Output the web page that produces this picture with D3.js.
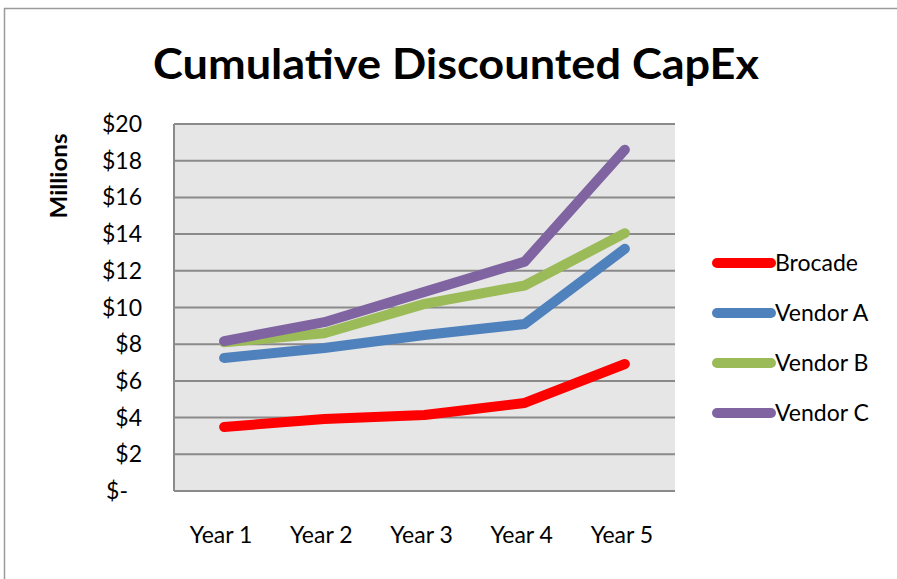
<!DOCTYPE html>
<html><head><meta charset="utf-8">
<script src="https://cdn.jsdelivr.net/npm/d3@7"></script>
<style>body{margin:0;background:#fff}svg{display:block}</style>
</head><body>
<svg id="c" width="897" height="579"></svg>
<script>
const categories = ["Year 1","Year 2","Year 3","Year 4","Year 5"];
const brocade = [3.49, 3.92, 4.14, 4.8, 6.92];
const vendorA = [7.25, 7.79, 8.5, 9.1, 13.2];
const vendorB = [8.1, 8.6, 10.2, 11.2, 14.05];
const vendorC = [8.17, 9.2, 10.85, 12.5, 18.6];
const seriesNames = ["Brocade","Vendor A","Vendor B","Vendor C"];
const seriesColors = ["#FF0000","#4F81BD","#9BBB59","#8064A2"];
const yTicks = [0,2,4,6,8,10,12,14,16,18,20];
const title = "Cumulative Discounted CapEx";
const yTitle = "Millions";

const series = [brocade, vendorA, vendorB, vendorC];
const svg = d3.select("#c");
const font = "Lato, 'Open Sans', sans-serif";

// outer border
svg.append("rect").attr("x",4.5).attr("y",8.5).attr("width",1000).attr("height",1000)
  .attr("fill","#fff").attr("stroke","#9a9a9a").attr("stroke-width",1.5);

const L=174, R=675, T=124, B=491;
const x = d3.scaleBand().domain(categories).range([L,R]);
const y = d3.scaleLinear().domain([0,20]).range([B,T]);

svg.append("rect").attr("x",L).attr("y",T).attr("width",R-L).attr("height",B-T).attr("fill","#E6E6E6");

// gridlines
svg.append("g").selectAll("line").data(yTicks).join("line")
  .attr("x1",L).attr("x2",R).attr("y1",d=>y(d)).attr("y2",d=>y(d))
  .attr("stroke","#8a8a8a").attr("stroke-width",2);
svg.append("line").attr("x1",L).attr("x2",L).attr("y1",T).attr("y2",B).attr("stroke","#8a8a8a").attr("stroke-width",2);

// y tick labels
svg.append("g").selectAll("text").data(yTicks).join("text")
  .attr("x",d=>d===0?128:142).attr("y",d=>y(d)).attr("dy","0.35em")
  .attr("text-anchor","end").attr("font-family",font).attr("font-size",23).attr("fill","#000")
  .text(d=>d===0?"$-":"$"+d);

// x labels
svg.append("g").selectAll("text").data(categories).join("text")
  .attr("x",d=>x(d)+x.bandwidth()/2-3).attr("y",543)
  .attr("text-anchor","middle").attr("font-family",font).attr("font-size",23).attr("fill","#000")
  .text(d=>d);

// y title
svg.append("text").attr("transform","translate(67,176) rotate(-90)")
  .attr("text-anchor","middle").attr("font-family",font).attr("font-weight","bold")
  .attr("font-size",22).attr("textLength",85).attr("lengthAdjust","spacingAndGlyphs").text(yTitle);

// title
svg.append("text").attr("x",456).attr("y",79).attr("text-anchor","middle")
  .attr("font-family",font).attr("font-weight","bold").attr("font-size",42)
  .attr("textLength",606).attr("lengthAdjust","spacingAndGlyphs").text(title);

// lines
const line = d3.line().x((d,i)=>x(categories[i])+x.bandwidth()/2).y(d=>y(d));
svg.append("g").selectAll("path").data(series).join("path")
  .attr("d",d=>line(d)).attr("fill","none")
  .attr("stroke",(d,i)=>seriesColors[i]).attr("stroke-width",10)
  .attr("stroke-linecap","round").attr("stroke-linejoin","round");

// legend
const lg = svg.append("g").selectAll("g").data(seriesNames).join("g")
  .attr("transform",(d,i)=>`translate(0,${263+i*50})`);
lg.append("line").attr("x1",717).attr("x2",771).attr("y1",0).attr("y2",0)
  .attr("stroke",(d,i)=>seriesColors[i]).attr("stroke-width",10).attr("stroke-linecap","round");
lg.append("text").attr("x",775).attr("y",0).attr("dy","0.35em")
  .attr("font-family",font).attr("font-size",23).attr("fill","#000").text(d=>d);
</script>
</body></html>
